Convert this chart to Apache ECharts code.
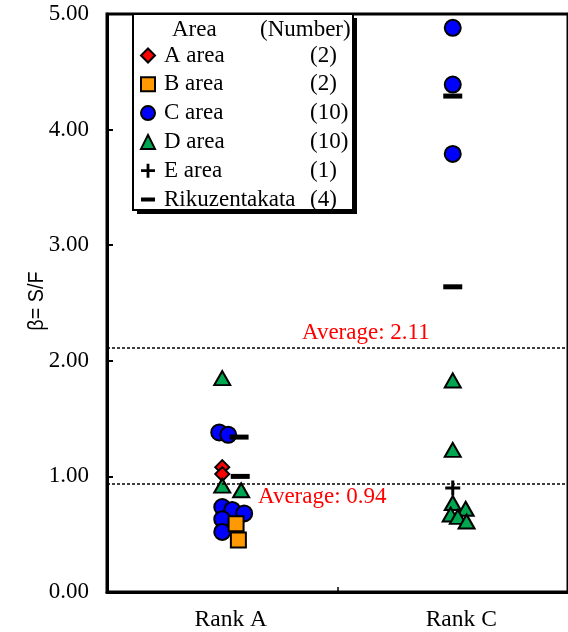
<!DOCTYPE html>
<html>
<head>
<meta charset="utf-8">
<script src="https://cdn.jsdelivr.net/npm/echarts@6/dist/echarts.min.js"></script>
<style>
  html, body { margin: 0; padding: 0; background: #fff; }
  #chart { width: 568px; height: 632px; }
</style>
</head>
<body>
<div id="chart"></div>
<script>
// Categories on the horizontal axis
const ranks = ['Rank A', 'Rank C'];

// Legend entries and the number of sites in each area
const areaNames = ['A area', 'B area', 'C area', 'D area', 'E area', 'Rikuzentakata'];
const areaCounts = [2, 2, 10, 10, 1, 4];

// β = S/F values per area, split by rank
const aRankA = [1.08, 1.02];
const aRankC = [];
const bRankA = [0.59, 0.45];
const bRankC = [];
const cRankA = [1.38, 1.36, 0.735, 0.71, 0.68, 0.63, 0.52];
const cRankC = [4.88, 4.39, 3.79];
const dRankA = [1.85, 0.92, 0.88];
const dRankC = [1.83, 1.23, 0.77, 0.72, 0.67, 0.65, 0.61];
const eRankA = [];
const eRankC = [0.90];
const rRankA = [1.34, 1.00];
const rRankC = [4.29, 2.64];

// Rank averages
const avgRankA = 0.94;
const avgRankC = 2.11;

// Horizontal spread of overlapping points (fraction of a category width)
const aJitA = [0, 0];
const bJitA = [0.06, 0.07];
const cJitA = [-0.013, 0.026, 0, 0.043, 0.095, 0, 0];
const cJitC = [0, 0, 0];
const dJitA = [0, 0, 0.082];
const dJitC = [0, 0, 0, 0.056, -0.009, 0.022, 0.06];
const eJitC = [0];
const rJitA = [0.073, 0.078];
const rJitC = [0, 0];

function points(valsA, jitA, valsC, jitC) {
  const out = [];
  valsA.forEach((v, i) => out.push([0.5 + (jitA[i] || 0), v]));
  valsC.forEach((v, i) => out.push([1.5 + (jitC[i] || 0), v]));
  return out;
}

const SERIF = '"Liberation Serif", "Times New Roman", serif';
const SANS = '"Liberation Sans", Arial, sans-serif';
const crossPath = 'path://M6,0h3v6h6v3h-6v6h-3v-6h-6v-3h6z';
const dashIcon = 'path://M0,0L0,0ZM14,14L14,14ZM0,5h14v4h-14z';
const edge = { borderColor: '#000', borderWidth: 2 };

const chart = echarts.init(document.getElementById('chart'), null, { renderer: 'canvas' });

const option = {
  animation: false,
  backgroundColor: '#fff',
  grid: {
    left: 107, top: 14, width: 464, height: 578,
    show: true, borderColor: '#000', borderWidth: 3, backgroundColor: 'transparent'
  },
  xAxis: [
    {
      type: 'category',
      data: ranks,
      boundaryGap: true,
      axisLine: { lineStyle: { color: '#000', width: 3 } },
      axisTick: { show: true, inside: true, length: 5, lineStyle: { color: '#000', width: 1.5 } },
      axisLabel: { color: '#000', fontFamily: SERIF, fontSize: 23.5, margin: 16, padding: [0, 0, 0, 17] },
      splitLine: { show: false }
    },
    { type: 'value', min: 0, max: 2, show: false }
  ],
  yAxis: {
    type: 'value',
    min: 0, max: 5, interval: 1,
    axisLine: { show: true, lineStyle: { color: '#000', width: 3 } },
    axisTick: { show: true, inside: true, length: 6, lineStyle: { color: '#000', width: 2 } },
    axisLabel: {
      color: '#000', fontFamily: SERIF, fontSize: 23, margin: 18, padding: [4, 0, 0, 0],
      formatter: v => v.toFixed(2)
    },
    splitLine: { show: false }
  },
  legend: {
    z: 5,
    orient: 'vertical',
    left: 133, top: 14,
    padding: [30, 7, 5, 7],
    itemGap: 5.8,
    itemWidth: 14, itemHeight: 14,
    selectedMode: false,
    backgroundColor: 'transparent',
    borderWidth: 0,
    data: areaNames.map(n => {
      if (n === 'E area') return { name: n, icon: crossPath };
      if (n === 'Rikuzentakata') return { name: n, icon: dashIcon };
      return { name: n };
    }),
    formatter: name => '{n|' + name + '}{c|(' + areaCounts[areaNames.indexOf(name)] + ')}',
    textStyle: {
      color: '#000', fontFamily: SERIF, fontSize: 23,
      rich: {
        n: { fontFamily: SERIF, fontSize: 23, width: 146, padding: [0, 0, 0, 4] },
        c: { fontFamily: SERIF, fontSize: 23 }
      }
    }
  },
  series: [
    {
      type: 'scatter', xAxisIndex: 1, yAxisIndex: 0, z: 1, silent: true, data: [],
      markLine: {
        silent: true, symbol: 'none', label: { show: false },
        lineStyle: { color: '#000', width: 1.5, type: [3, 2] },
        data: [{ yAxis: avgRankC }, { yAxis: avgRankA }]
      }
    },
    {
      name: 'A area', type: 'scatter', xAxisIndex: 1, z: 2,
      symbol: 'diamond', symbolSize: 14,
      itemStyle: Object.assign({ color: '#ff0000', opacity: 1 }, edge),
      data: points(aRankA, aJitA, aRankC, [])
    },
    {
      name: 'B area', type: 'scatter', xAxisIndex: 1, z: 4,
      symbol: 'rect', symbolSize: 15,
      itemStyle: Object.assign({ color: '#ff9900', opacity: 1 }, edge),
      data: points(bRankA, bJitA, bRankC, [])
    },
    {
      name: 'C area', type: 'scatter', xAxisIndex: 1, z: 2,
      symbol: 'circle', symbolSize: 16,
      itemStyle: Object.assign({ color: '#0000ff', opacity: 1 }, edge),
      data: points(cRankA, cJitA, cRankC, cJitC)
    },
    {
      name: 'D area', type: 'scatter', xAxisIndex: 1, z: 3,
      symbol: 'triangle', symbolSize: [16, 14],
      itemStyle: Object.assign({ color: '#00a650', opacity: 1 }, edge),
      data: points(dRankA, dJitA, dRankC, dJitC)
    },
    {
      name: 'E area', type: 'scatter', xAxisIndex: 1, z: 4,
      symbol: crossPath, symbolSize: 15,
      itemStyle: { color: '#000', borderWidth: 0, opacity: 1 },
      data: points(eRankA, [], eRankC, eJitC)
    },
    {
      name: 'Rikuzentakata', type: 'scatter', xAxisIndex: 1, z: 4,
      symbol: 'rect', symbolSize: [19, 5],
      itemStyle: { color: '#000', borderWidth: 0, opacity: 1 },
      data: points(rRankA, rJitA, rRankC, rJitC)
    }
  ]
};

chart.setOption(option);

// Legend frame, legend header, axis title and the average annotations
const yHi = chart.convertToPixel({ yAxisIndex: 0 }, avgRankC);
const yLo = chart.convertToPixel({ yAxisIndex: 0 }, avgRankA);
const textStyle = (text, color) => ({ text, fill: color, fontFamily: SERIF, fontSize: 23, verticalAlign: 'middle', align: 'left' });
chart.setOption({
  graphic: [
    { type: 'rect', z: 2, silent: true, shape: { x: 137, y: 18, width: 220, height: 196 }, style: { fill: '#000' } },
    { type: 'rect', z: 3, silent: true, shape: { x: 133, y: 14, width: 220, height: 196 }, style: { fill: '#fff', stroke: '#000', lineWidth: 2 } },
    { type: 'text', z: 100, x: 172, y: 30, style: textStyle('Area', '#000') },
    { type: 'text', z: 100, x: 260, y: 30, style: textStyle('(Number)', '#000') },
    {
      type: 'text', z: 100, x: 37, y: 301, rotation: Math.PI / 2, scaleX: 0.9,
      style: { text: 'β= S/F', fill: '#000', fontFamily: SANS, fontSize: 22, align: 'center', verticalAlign: 'middle' }
    },
    { type: 'text', z: 100, x: 302, y: yHi - 15, style: textStyle('Average: ' + avgRankC.toFixed(2), '#ff0000') },
    { type: 'text', z: 100, x: 258, y: yLo + 14, style: textStyle('Average: ' + avgRankA.toFixed(2), '#ff0000') }
  ]
});
</script>
</body>
</html>
